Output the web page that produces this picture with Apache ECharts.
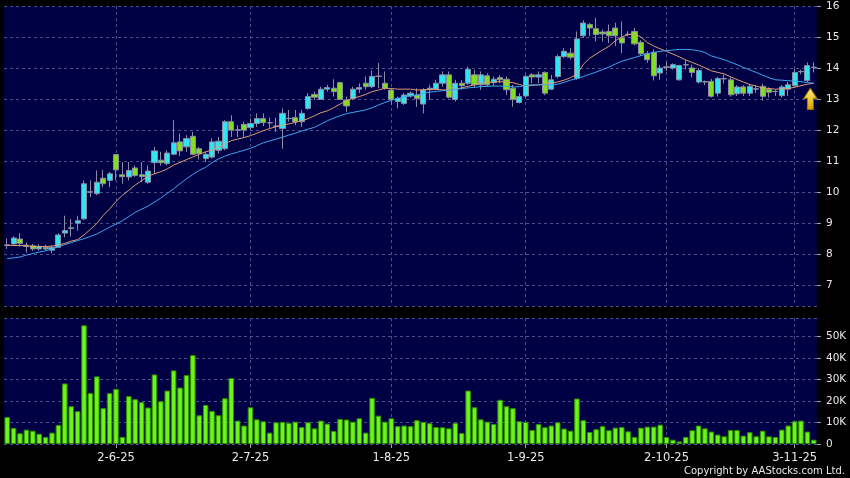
<!DOCTYPE html>
<html>
<head>
<meta charset="utf-8">
<script src="https://cdn.jsdelivr.net/npm/echarts@6/dist/echarts.min.js"></script>
<style>
html, body { margin: 0; padding: 0; background: #000; }
#chart { width: 850px; height: 478px; }
</style>
</head>
<body>
<div id="chart"></div>
<script>
// trading days, D-M-YY
const dates = [
  '8-5-25','9-5-25','12-5-25','13-5-25','14-5-25','15-5-25','16-5-25','19-5-25','20-5-25','21-5-25',
  '22-5-25','23-5-25','26-5-25','27-5-25','28-5-25','29-5-25','30-5-25',
  '2-6-25','3-6-25','4-6-25','5-6-25','6-6-25','9-6-25','10-6-25','11-6-25','12-6-25','13-6-25',
  '16-6-25','17-6-25','18-6-25','19-6-25','20-6-25','23-6-25','24-6-25','25-6-25','26-6-25','27-6-25','30-6-25',
  '2-7-25','3-7-25','4-7-25','7-7-25','8-7-25','9-7-25','10-7-25','11-7-25','14-7-25','15-7-25',
  '16-7-25','17-7-25','18-7-25','21-7-25','22-7-25','23-7-25','24-7-25','25-7-25','28-7-25','29-7-25','30-7-25','31-7-25',
  '1-8-25','4-8-25','5-8-25','6-8-25','7-8-25','8-8-25','11-8-25','12-8-25','13-8-25','14-8-25',
  '15-8-25','18-8-25','19-8-25','20-8-25','21-8-25','22-8-25','25-8-25','26-8-25','27-8-25','28-8-25','29-8-25',
  '1-9-25','2-9-25','3-9-25','4-9-25','5-9-25','8-9-25','9-9-25','10-9-25','11-9-25','12-9-25',
  '15-9-25','16-9-25','17-9-25','18-9-25','19-9-25','22-9-25','23-9-25','24-9-25','25-9-25','26-9-25','29-9-25','30-9-25',
  '2-10-25','3-10-25','6-10-25','8-10-25','9-10-25','10-10-25','13-10-25','14-10-25','15-10-25','16-10-25',
  '17-10-25','20-10-25','21-10-25','22-10-25','23-10-25','24-10-25','27-10-25','28-10-25','30-10-25','31-10-25',
  '3-11-25','4-11-25','5-11-25','6-11-25'
];
const tickLabels = ['2-6-25', '2-7-25', '1-8-25', '1-9-25', '2-10-25', '3-11-25'];

// [open, close, low, high]
const candles = [
  [8.28,8.30,8.17,8.50],[8.33,8.52,8.28,8.58],[8.49,8.35,8.25,8.68],[8.29,8.25,8.05,8.38],[8.27,8.17,8.11,8.33],
  [8.17,8.25,8.12,8.32],[8.22,8.17,8.12,8.30],[8.13,8.22,8.03,8.28],[8.22,8.62,8.20,8.68],[8.68,8.76,8.54,9.24],
  [8.83,8.85,8.57,9.13],[9.00,9.08,8.76,9.24],[9.14,10.27,9.10,10.38],[10.00,10.01,9.84,10.38],[9.95,10.32,9.90,10.70],
  [10.45,10.27,10.16,10.72],[10.38,10.59,10.16,10.65],[11.21,10.72,10.38,11.22],[10.56,10.50,10.27,10.97],[10.49,10.70,10.38,10.97],
  [10.78,10.54,10.49,10.86],[10.56,10.50,10.32,10.97],[10.32,10.68,10.27,10.86],[10.95,11.33,10.59,11.46],[11.03,10.95,10.86,11.30],
  [10.92,11.26,10.86,11.35],[11.22,11.59,11.19,12.32],[11.62,11.33,11.16,11.89],[11.46,11.73,11.30,11.84],[11.80,11.22,11.19,11.94],
  [11.40,11.24,11.05,11.46],[11.08,11.22,10.97,11.30],[11.13,11.62,11.08,11.73],[11.35,11.64,11.24,11.78],[11.40,12.27,11.35,12.32],
  [12.27,12.00,11.78,12.48],[12.00,12.01,11.78,12.16],[12.18,12.00,11.78,12.27],[12.08,12.21,12.00,12.37],[12.21,12.37,12.10,12.54],
  [12.37,12.24,12.13,12.54],[12.24,12.23,12.05,12.40],[12.12,12.13,11.94,12.40],[12.05,12.54,11.40,12.70],[12.37,12.38,12.27,12.65],
  [12.40,12.27,12.16,12.65],[12.27,12.54,12.10,12.65],[12.70,13.08,12.65,13.19],[13.15,13.06,12.97,13.24],[12.99,13.32,12.97,13.40],
  [13.32,13.37,13.24,13.46],[13.35,13.24,13.08,13.64],[13.53,12.99,12.97,13.56],[12.97,12.78,12.59,13.08],[13.02,13.32,12.97,13.40],
  [13.32,13.37,13.19,13.51],[13.51,13.40,13.30,13.73],[13.40,13.73,13.35,13.92],[13.73,13.74,13.35,14.16],[13.51,13.35,13.30,13.89],
  [13.29,12.99,12.81,13.35],[12.92,13.02,12.70,13.08],[12.86,13.13,12.81,13.19],[13.10,13.19,13.05,13.24],[13.13,13.02,12.75,13.35],
  [12.84,13.29,12.54,13.35],[13.30,13.35,12.97,13.46],[13.32,13.51,13.30,13.62],[13.51,13.78,13.40,13.89],[13.78,13.06,13.02,13.89],
  [12.99,13.51,12.92,13.62],[13.51,13.43,13.30,13.62],[13.51,13.96,13.46,14.05],[13.78,13.46,13.35,13.94],[13.46,13.78,13.30,13.89],
  [13.75,13.46,13.40,13.83],[13.53,13.64,13.42,13.73],[13.69,13.62,13.51,13.78],[13.64,13.30,13.13,13.73],[13.35,12.99,12.75,13.46],
  [12.89,13.08,12.86,13.19],[13.10,13.73,13.02,13.78],[13.78,13.71,13.51,13.83],[13.71,13.78,13.51,13.89],[13.86,13.19,13.13,13.89],
  [13.32,13.62,13.30,13.78],[13.73,14.37,13.67,14.43],[14.37,14.54,14.32,14.64],[14.48,14.35,14.27,14.64],[13.67,14.94,13.62,15.18],
  [15.04,15.45,14.97,15.54],[15.40,15.29,15.02,15.45],[15.27,15.08,14.86,15.62],[15.16,15.10,14.86,15.24],[15.18,15.04,14.80,15.40],
  [15.29,15.04,14.71,15.46],[14.97,14.81,14.48,15.50],[15.08,15.09,15.02,15.19],[15.18,14.78,14.73,15.29],[14.83,14.46,14.40,14.90],
  [14.46,14.27,14.17,14.55],[14.51,13.75,13.60,14.60],[13.84,14.00,13.62,14.10],[14.02,14.04,13.90,14.20],[14.00,14.11,13.95,14.15],
  [13.62,14.08,13.60,14.10],[14.10,14.11,13.95,14.27],[14.00,13.86,13.70,14.11],[13.55,13.92,13.50,14.00],[13.55,13.56,13.45,13.60],
  [13.57,13.09,13.05,13.65],[13.19,13.66,13.08,13.72],[13.65,13.66,13.50,13.78],[13.62,13.14,13.08,13.70],[13.17,13.39,13.10,13.45],
  [13.39,13.19,13.10,13.45],[13.19,13.41,13.10,13.48],[13.32,13.33,13.20,13.45],[13.41,13.09,12.95,13.50],[13.32,13.22,13.05,13.38],
  [13.24,13.25,13.10,13.30],[13.11,13.39,13.05,13.45],[13.32,13.46,13.10,13.55],[13.43,13.86,13.38,13.97],[13.88,13.89,13.80,13.95],
  [13.60,14.08,13.55,14.18],[14.02,14.03,13.86,14.18]
];

// moving averages
const maFast = [
  8.29,8.28,8.28,8.27,8.25,8.25,8.25,8.26,8.29,8.35,8.42,8.47,8.62,8.80,8.99,9.25,9.46,9.70,9.90,10.06,
  10.23,10.37,10.52,10.59,10.66,10.75,10.87,10.96,11.05,11.13,11.22,11.30,11.36,11.45,11.55,11.66,11.71,11.76,11.82,11.90,
  11.98,12.05,12.11,12.16,12.20,12.25,12.30,12.37,12.46,12.56,12.62,12.72,12.84,12.94,13.03,13.08,13.15,13.24,13.29,13.35,
  13.34,13.32,13.32,13.32,13.29,13.30,13.32,13.31,13.30,13.29,13.32,13.36,13.41,13.46,13.51,13.53,13.55,13.56,13.55,13.53,
  13.47,13.42,13.44,13.46,13.48,13.51,13.55,13.61,13.69,13.80,14.12,14.32,14.45,14.58,14.70,14.88,15.00,15.08,15.10,15.00,
  14.82,14.71,14.62,14.54,14.45,14.36,14.26,14.18,14.10,14.01,13.91,13.86,13.81,13.72,13.63,13.55,13.47,13.42,13.36,13.34,
  13.32,13.33,13.34,13.38,13.43,13.48,13.51
];
const maSlow = [
  7.86,7.88,7.91,7.97,8.02,8.07,8.11,8.17,8.24,8.31,8.37,8.44,8.50,8.57,8.65,8.76,8.87,8.97,9.08,9.21,
  9.35,9.45,9.55,9.68,9.81,9.96,10.11,10.27,10.43,10.57,10.70,10.80,10.95,11.07,11.16,11.23,11.29,11.35,11.41,11.50,
  11.59,11.65,11.71,11.77,11.84,11.90,11.97,12.03,12.09,12.19,12.30,12.39,12.46,12.53,12.57,12.61,12.65,12.72,12.81,12.89,
  12.96,13.02,13.07,13.10,13.13,13.18,13.22,13.25,13.27,13.29,13.31,13.34,13.36,13.38,13.40,13.41,13.42,13.42,13.41,13.39,
  13.40,13.44,13.46,13.46,13.46,13.46,13.48,13.54,13.61,13.66,13.73,13.80,13.87,13.95,14.03,14.13,14.22,14.28,14.34,14.40,
  14.46,14.50,14.54,14.56,14.58,14.60,14.60,14.59,14.56,14.50,14.39,14.33,14.27,14.19,14.11,14.02,13.94,13.86,13.77,13.69,
  13.62,13.61,13.59,13.58,13.56,13.53,13.51
];

// volume, thousands of shares
const volumes = [
  12.6,7.5,5.0,6.7,6.2,4.8,3.3,5.3,8.9,28.2,17.6,15.3,55.3,23.7,31.5,16.7,23.7,25.7,3.3,22.3,
  20.9,19.5,17.0,32.4,19.9,24.9,34.3,26.3,32.1,41.4,13.4,18.2,15.4,13.4,21.3,30.7,10.9,8.6,17.1,11.5,
  10.6,5.3,10.1,10.3,9.8,10.4,7.9,10.1,7.3,10.9,9.5,6.1,11.7,11.4,10.4,12.0,5.3,21.5,13.2,10.4,
  12.0,8.3,8.6,8.3,11.1,10.3,9.7,7.9,7.8,7.3,9.8,5.1,24.9,17.1,11.5,10.4,9.3,20.6,17.6,16.7,
  10.6,10.3,6.5,9.3,7.8,8.6,10.1,7.2,6.2,21.2,11.1,5.6,6.9,8.3,6.4,7.6,7.9,5.9,3.3,7.6,
  8.1,8.1,9.0,3.3,2.0,1.2,3.3,6.4,8.6,7.3,5.8,4.4,3.6,6.5,6.5,3.9,5.5,3.6,6.2,3.6,
  3.3,6.7,8.6,10.6,10.9,5.8,2.0
];

const chart = echarts.init(document.getElementById('chart'));

const textColor = '#e8e8e8';
const dashLine = { show: true, lineStyle: { color: '#4e4e88', type: [3, 3], width: 1 } };
const isMonthTick = (idx, val) => tickLabels.indexOf(val) >= 0;

const option = {
  backgroundColor: '#000',
  animation: false,
  grid: [
    { left: 4, right: 33, top: 6, bottom: 172, show: true, backgroundColor: '#000044', borderWidth: 0 },
    { left: 4, right: 33, top: 318, bottom: 34, show: true, backgroundColor: '#000044', borderWidth: 0 }
  ],
  xAxis: [
    {
      type: 'category', gridIndex: 0, data: dates,
      axisLine: { show: false }, axisTick: { show: false }, axisLabel: { show: false },
      splitLine: Object.assign({}, dashLine, { interval: isMonthTick, alignWithLabel: true })
    },
    {
      type: 'category', gridIndex: 1, data: dates,
      axisLine: { show: false },
      axisTick: { show: true, alignWithLabel: true, interval: isMonthTick, length: 4, lineStyle: { color: '#a0a0a0' } },
      axisLabel: { interval: isMonthTick, color: textColor, fontSize: 11.5, fontFamily: 'DejaVu Sans', margin: 8 },
      splitLine: Object.assign({}, dashLine, { interval: isMonthTick, alignWithLabel: true })
    }
  ],
  yAxis: [
    {
      type: 'value', gridIndex: 0, position: 'right', min: 6.33, max: 16, splitNumber: 10,
      axisLine: { show: false },
      axisTick: { show: true, length: 4, lineStyle: { color: '#a0a0a0' } },
      axisLabel: { color: textColor, fontSize: 10.5, fontFamily: 'DejaVu Sans', margin: 9, showMinLabel: false, showMaxLabel: true },
      splitLine: dashLine
    },
    {
      type: 'value', gridIndex: 1, position: 'right', min: 0, max: 58.7, splitNumber: 5,
      axisLine: { show: false },
      axisTick: { show: true, length: 4, lineStyle: { color: '#a0a0a0' } },
      axisLabel: {
        color: textColor, fontSize: 10.5, fontFamily: 'DejaVu Sans', margin: 9, showMaxLabel: false,
        formatter: v => (v === 0 ? '0' : v + 'K')
      },
      splitLine: dashLine
    }
  ],
  graphic: [{
    type: 'text', right: 5, top: 466,
    style: { text: 'Copyright by AAStocks.com Ltd.', fill: textColor, font: '10px "DejaVu Sans"' }
  }],
  series: [
    {
      type: 'candlestick', xAxisIndex: 0, yAxisIndex: 0, data: candles, barWidth: '88%',
      itemStyle: {
        color: '#30e4f0', color0: '#80e020',
        borderColor: '#8c8ca4', borderColor0: '#8c8ca4', borderColorDoji: '#a4a4b4', borderWidth: 1
      },
      markPoint: {
        silent: true,
        symbol: 'path://M6.5,0 L13,10 L9.5,10 L9.5,21 L3.5,21 L3.5,10 L0,10 Z',
        symbolSize: [13, 21],
        symbolOffset: [-3.5, 0],
        label: { show: false },
        itemStyle: {
          color: new echarts.graphic.LinearGradient(0, 0, 0, 1, [
            { offset: 0, color: '#fff47a' }, { offset: 1, color: '#e0a000' }
          ]),
          borderColor: '#a87a00', borderWidth: 1
        },
        data: [{ coord: [dates[dates.length - 1], 13.01] }]
      }
    },
    {
      type: 'line', xAxisIndex: 0, yAxisIndex: 0, data: maFast, showSymbol: false,
      lineStyle: { color: '#e09c72', width: 1 }
    },
    {
      type: 'line', xAxisIndex: 0, yAxisIndex: 0, data: maSlow, showSymbol: false,
      lineStyle: { color: '#3ea6ec', width: 1 }
    },
    {
      type: 'bar', xAxisIndex: 1, yAxisIndex: 1, data: volumes, barWidth: '86%',
      itemStyle: { color: '#6cf51a', borderColor: '#2f8f00', borderWidth: 1 }
    }
  ]
};

chart.setOption(option);
</script>
</body>
</html>
